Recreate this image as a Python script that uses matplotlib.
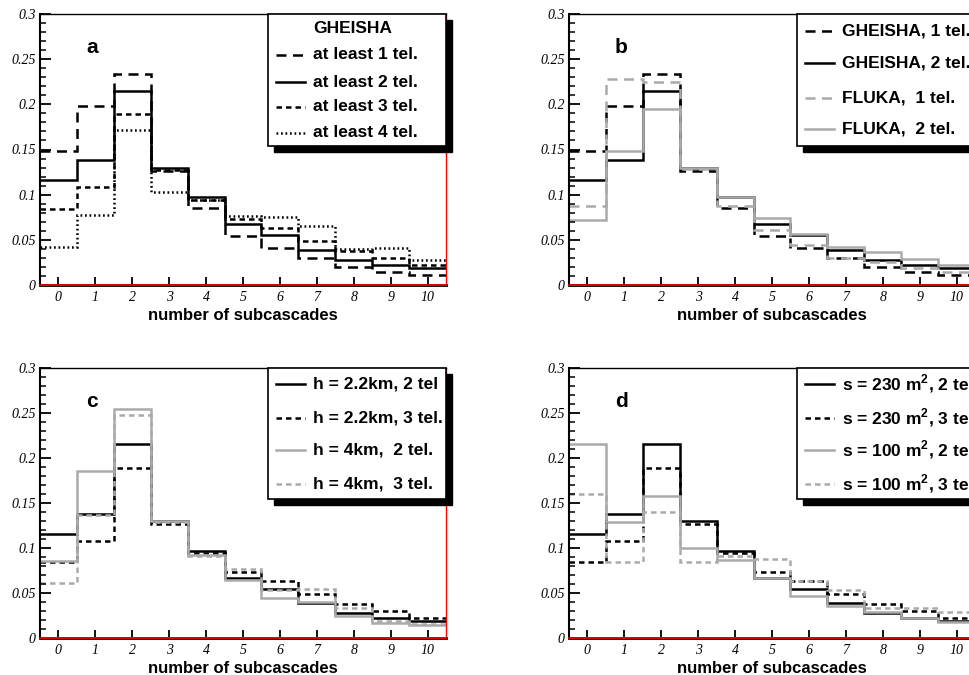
import numpy as np
import matplotlib
matplotlib.use('Agg')
import matplotlib.pyplot as plt
from matplotlib.patches import Rectangle

plt.rcParams['mathtext.fontset'] = 'custom'
plt.rcParams['mathtext.rm'] = 'Liberation Sans:bold'
plt.rcParams['mathtext.bf'] = 'Liberation Sans:bold'

# bin contents, subcascades 0..10
n_sub = list(range(11))
g_1tel = [0.148, 0.198, 0.234, 0.126, 0.085, 0.054, 0.041, 0.030, 0.020, 0.014, 0.011]
g_2tel = [0.116, 0.138, 0.215, 0.130, 0.097, 0.067, 0.055, 0.039, 0.028, 0.022, 0.019]
g_3tel = [0.084, 0.108, 0.189, 0.127, 0.094, 0.073, 0.063, 0.049, 0.038, 0.030, 0.022]
g_4tel = [0.042, 0.078, 0.172, 0.103, 0.094, 0.076, 0.075, 0.065, 0.040, 0.041, 0.028]
fl_1tel = [0.088, 0.228, 0.225, 0.128, 0.087, 0.061, 0.044, 0.030, 0.025, 0.019, 0.014]
fl_2tel = [0.072, 0.148, 0.195, 0.130, 0.097, 0.074, 0.056, 0.042, 0.036, 0.029, 0.022]
h4_2tel = [0.086, 0.186, 0.254, 0.130, 0.092, 0.065, 0.045, 0.040, 0.025, 0.017, 0.015]
h4_3tel = [0.061, 0.137, 0.248, 0.129, 0.091, 0.077, 0.053, 0.055, 0.033, 0.019, 0.016]
s100_2tel = [0.216, 0.129, 0.158, 0.100, 0.087, 0.067, 0.047, 0.036, 0.029, 0.022, 0.018]
s100_3tel = [0.160, 0.084, 0.140, 0.084, 0.091, 0.088, 0.063, 0.053, 0.033, 0.033, 0.029]

labels_a = ['at least 1 tel.', 'at least 2 tel.', 'at least 3 tel.', 'at least 4 tel.']
labels_b = ['GHEISHA, 1 tel.', 'GHEISHA, 2 tel.', 'FLUKA,  1 tel.', 'FLUKA,  2 tel.']
labels_c = ['h = 2.2km, 2 tel', 'h = 2.2km, 3 tel.', 'h = 4km,  2 tel.', 'h = 4km,  3 tel.']
labels_d = ['s = 230 $\\mathrm{m}^{\\mathrm{2}}$, 2 tel.', 's = 230 $\\mathrm{m}^{\\mathrm{2}}$, 3 tel.',
            's = 100 $\\mathrm{m}^{\\mathrm{2}}$, 2 tel.', 's = 100 $\\mathrm{m}^{\\mathrm{2}}$, 3 tel.']

GRAY = '#aaaaaa'
LW = 1.8
long_dash = (0, (4.0, 2.6))
short_dash = (0, (2.2, 1.6))
dotted = (0, (0.7, 1.1))

SANS = 'Liberation Sans'
SERIF = 'Liberation Serif'

fig = plt.figure(figsize=(9.7, 6.75), dpi=100)

W = 406 / 970
axa = fig.add_axes([40 / 970, 1 - 285 / 675, W, 271 / 675])
axb = fig.add_axes([569 / 970, 1 - 285 / 675, W, 271 / 675])
axc = fig.add_axes([40 / 970, 1 - 638 / 675, W, 270 / 675])
axd = fig.add_axes([569 / 970, 1 - 638 / 675, W, 270 / 675])

edges = np.arange(-0.5, 11.5, 1.0)


def setup(ax, letter):
    ax.set_xlim(-0.5, 10.5)
    ax.set_ylim(0, 0.3)
    ax.set_xticks(n_sub)
    ax.set_xticklabels([str(i) for i in n_sub], fontfamily=SERIF, fontstyle='italic', fontsize=10)
    ax.set_yticks([0, 0.05, 0.1, 0.15, 0.2, 0.25, 0.3])
    ax.set_yticklabels(['0', '0.05', '0.1', '0.15', '0.2', '0.25', '0.3'],
                       fontfamily=SERIF, fontstyle='italic', fontsize=10)
    ax.set_yticks(np.arange(0, 0.3001, 0.01), minor=True)
    ax.tick_params(axis='y', which='major', direction='in', length=8, width=1.3, pad=3)
    ax.tick_params(axis='y', which='minor', direction='in', length=4.5, width=1.1)
    ax.tick_params(axis='x', which='major', direction='in', length=6, width=1.3, pad=4)
    ax.spines['left'].set_linewidth(1.5)
    ax.spines['top'].set_linewidth(1.0)
    ax.spines['right'].set_color('red')
    ax.spines['right'].set_linewidth(1.0)
    ax.spines['bottom'].set_linewidth(2.0)
    ax.axhline(0, color='red', lw=1.2, zorder=5, clip_on=False)
    ax.set_xlabel('number of subcascades', fontfamily=SANS, fontweight='bold', fontsize=12, labelpad=3)
    ax.text(0.113, 0.875, letter, transform=ax.transAxes, fontfamily=SANS,
            fontweight='bold', fontsize=15, va='center', ha='left')


def hist(ax, vals, color, ls):
    ax.stairs(vals, edges, baseline=None, color=color, linestyle=ls, lw=LW)


def legend_box(ax, entries, ys, title=None):
    x0, x1, y0, y1 = 0.5616, 1.0, 0.513, 1.0
    dx, dy = 6 / 406, 6 / 271
    ax.add_patch(Rectangle((x0 + dx, y0 - dy), x1 - x0, y1 - y0, transform=ax.transAxes,
                           facecolor='black', edgecolor='black', clip_on=False, zorder=8))
    ax.add_patch(Rectangle((x0, y0), x1 - x0, y1 - y0, transform=ax.transAxes,
                           facecolor='white', edgecolor='black', lw=1.2, clip_on=False, zorder=9))
    if title:
        ax.text(0.771, 0.945, title, transform=ax.transAxes, fontfamily=SANS, fontweight='bold',
                fontsize=12.5, ha='center', va='center', zorder=10)
    for (lab, color, ls), y in zip(entries, ys):
        ax.plot([0.581, 0.652], [y, y], transform=ax.transAxes, color=color, ls=ls, lw=LW,
                clip_on=False, zorder=10)
        ax.text(0.672, y, lab, transform=ax.transAxes, fontfamily=SANS, fontweight='bold',
                fontsize=12.5, ha='left', va='center', zorder=10)


# panel a
setup(axa, 'a')
hist(axa, g_1tel, 'black', long_dash)
hist(axa, g_2tel, 'black', '-')
hist(axa, g_3tel, 'black', short_dash)
hist(axa, g_4tel, 'black', dotted)
legend_box(axa, [(labels_a[0], 'black', long_dash), (labels_a[1], 'black', '-'),
                 (labels_a[2], 'black', short_dash), (labels_a[3], 'black', dotted)],
           [0.849, 0.749, 0.657, 0.561], title='GHEISHA')

# panel b
setup(axb, 'b')
hist(axb, g_1tel, 'black', long_dash)
hist(axb, g_2tel, 'black', '-')
hist(axb, fl_1tel, GRAY, long_dash)
hist(axb, fl_2tel, GRAY, '-')
legend_box(axb, [(labels_b[0], 'black', long_dash), (labels_b[1], 'black', '-'),
                 (labels_b[2], GRAY, long_dash), (labels_b[3], GRAY, '-')],
           [0.937, 0.819, 0.690, 0.576])

# panel c
setup(axc, 'c')
hist(axc, g_2tel, 'black', '-')
hist(axc, g_3tel, 'black', short_dash)
hist(axc, h4_2tel, GRAY, '-')
hist(axc, h4_3tel, GRAY, short_dash)
legend_box(axc, [(labels_c[0], 'black', '-'), (labels_c[1], 'black', short_dash),
                 (labels_c[2], GRAY, '-'), (labels_c[3], GRAY, short_dash)],
           [0.941, 0.815, 0.696, 0.570])

# panel d (legend runs past the right edge, as in the original)
setup(axd, 'd')
hist(axd, g_2tel, 'black', '-')
hist(axd, g_3tel, 'black', short_dash)
hist(axd, s100_2tel, GRAY, '-')
hist(axd, s100_3tel, GRAY, short_dash)
legend_box(axd, [(labels_d[0], 'black', '-'), (labels_d[1], 'black', short_dash),
                 (labels_d[2], GRAY, '-'), (labels_d[3], GRAY, short_dash)],
           [0.941, 0.815, 0.696, 0.570])

fig.savefig('out.png', dpi=100)
